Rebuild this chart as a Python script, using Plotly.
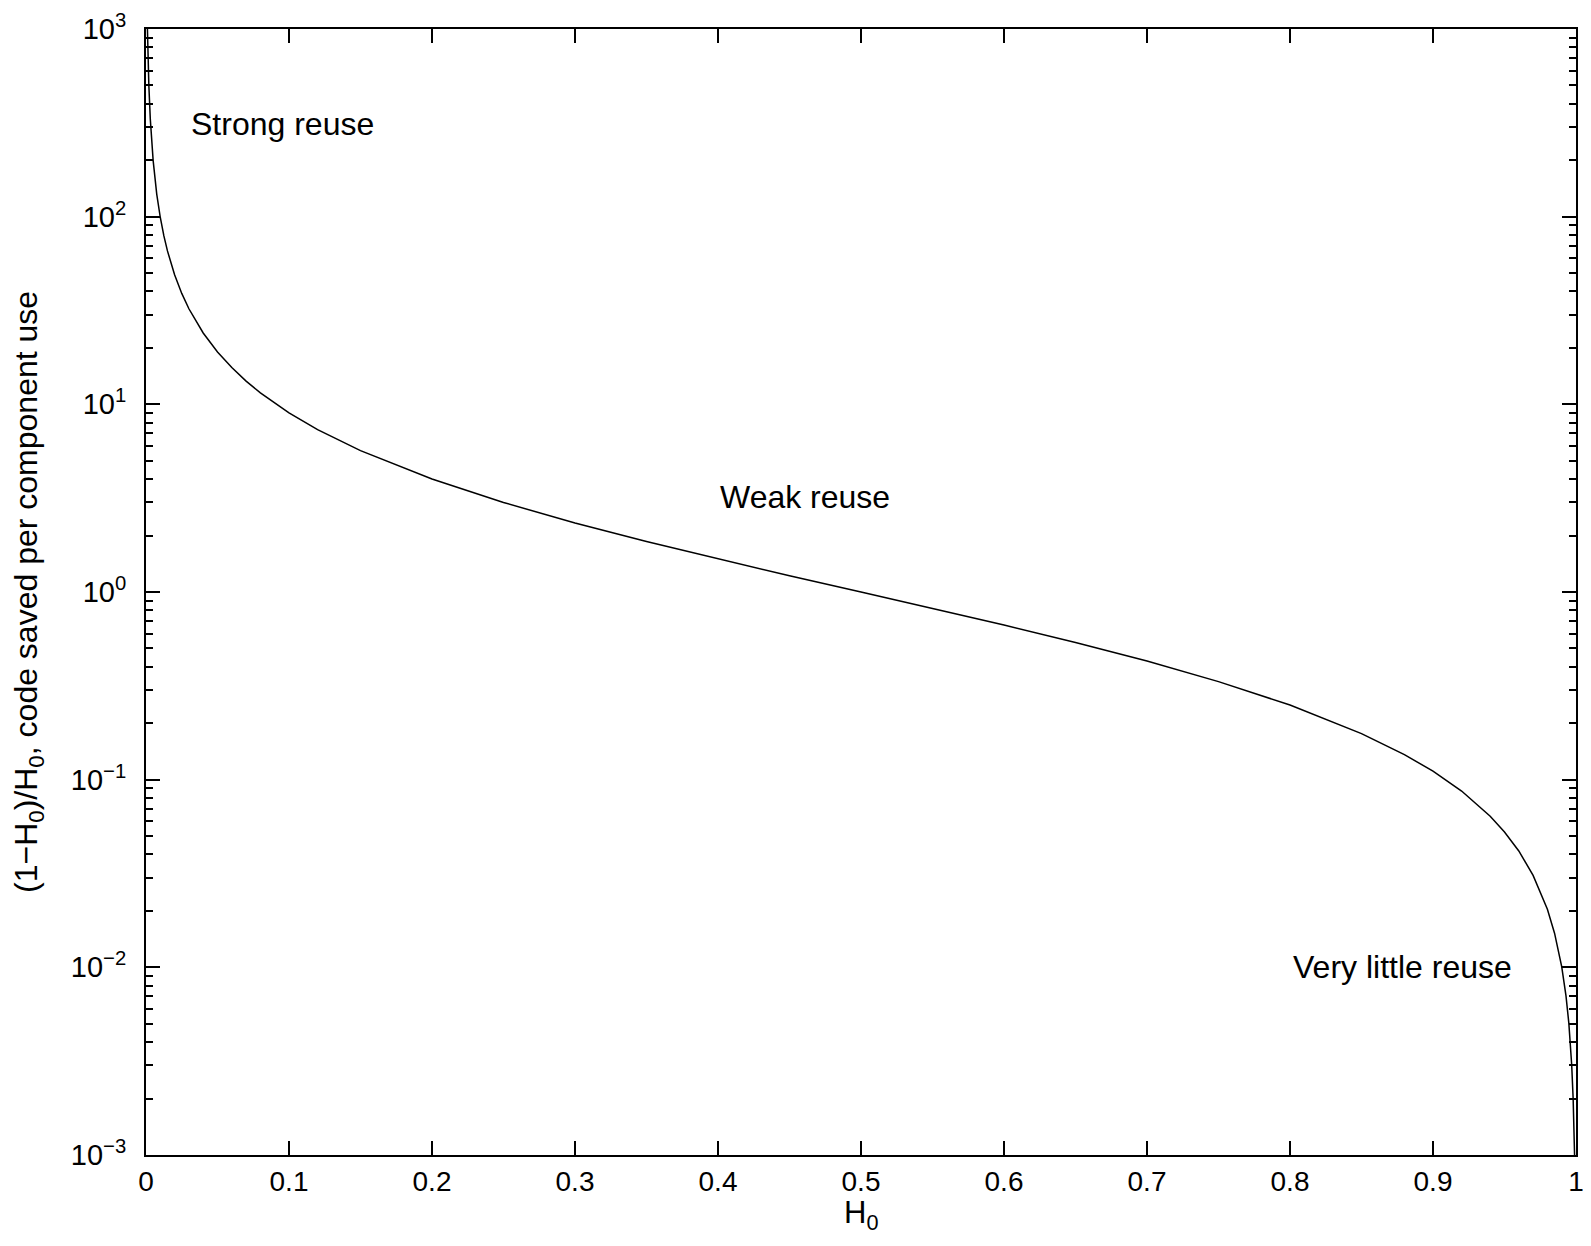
import math
import plotly.graph_objects as go

# Values
h0 = [0.001, 0.0015, 0.002, 0.003, 0.004, 0.005, 0.0075, 0.01, 0.0125, 0.015, 0.02, 0.025,
      0.03, 0.04, 0.05, 0.06, 0.07, 0.08, 0.1, 0.12, 0.15, 0.2, 0.25, 0.3, 0.35, 0.4,
      0.45, 0.5, 0.55, 0.6, 0.65, 0.7, 0.75, 0.8, 0.85, 0.88, 0.9, 0.92, 0.94, 0.95,
      0.96, 0.97, 0.98, 0.985, 0.99, 0.993, 0.995, 0.997, 0.998, 0.999]
saved = [999, 666, 499, 332, 249, 199, 132, 99, 79, 65.7, 49, 39, 32.3, 24, 19, 15.7,
         13.3, 11.5, 9, 7.33, 5.67, 4, 3, 2.33, 1.86, 1.5, 1.22, 1.0, 0.818, 0.667,
         0.538, 0.429, 0.333, 0.25, 0.176, 0.136, 0.111, 0.087, 0.0638, 0.0526, 0.0417,
         0.0309, 0.0204, 0.0152, 0.0101, 0.00705, 0.00503, 0.00301, 0.002, 0.001]

x_ticks = [0, 0.1, 0.2, 0.3, 0.4, 0.5, 0.6, 0.7, 0.8, 0.9, 1]
x_labels = ["0", "0.1", "0.2", "0.3", "0.4", "0.5", "0.6", "0.7", "0.8", "0.9", "1"]
y_ticks = [1e-3, 1e-2, 1e-1, 1, 10, 100, 1000]
y_labels = ["10<sup>\u22123</sup>", "10<sup>\u22122</sup>", "10<sup>\u22121</sup>", "10<sup>0</sup>",
            "10<sup>1</sup>", "10<sup>2</sup>", "10<sup>3</sup>"]

notes = ["Strong reuse", "Weak reuse", "Very little reuse"]
note_x = [0.030, 0.400, 0.801]
note_y = [312, 3.2, 0.0101]

FONT = "Liberation Sans, Arial, Helvetica, sans-serif"

minor_vals = [m * 10 ** e for e in range(-3, 3) for m in range(2, 10)]

fig = go.Figure()
fig.add_trace(go.Scatter(x=h0, y=saved, mode="lines", line=dict(color="black", width=1.5),
                         showlegend=False))

for t, x, y in zip(notes, note_x, note_y):
    fig.add_annotation(x=x, y=math.log10(y), yref="y", xref="x", text=t, showarrow=False, xanchor="left",
                       yanchor="middle", font=dict(size=32, color="black", family=FONT))

fig.add_annotation(x=0.5, y=0, xref="paper", yref="paper", yanchor="middle", xanchor="center", yshift=-60,
                   text="H<sub>0</sub>", showarrow=False, font=dict(size=31, color="black", family=FONT))
fig.add_annotation(x=0, y=0.5, xref="paper", yref="paper", yanchor="middle", xanchor="center", xshift=-118,
                   textangle=-90, text="(1\u2212H<sub>0</sub>)/H<sub>0</sub>, code saved per component use",
                   showarrow=False, font=dict(size=32, color="black", family=FONT))

fig.update_xaxes(range=[0, 1], tickmode="array", tickvals=x_ticks, ticktext=x_labels, ticks="inside", ticklen=14,
                 tickwidth=1.5, tickcolor="black", showline=True, linecolor="black", linewidth=2,
                 mirror="allticks", showgrid=False, zeroline=False, automargin=False,
                 ticklabeloverflow="allow",
                 tickfont=dict(size=28, color="black", family=FONT))
fig.update_yaxes(type="log", range=[-3, 3], tickmode="array", tickvals=y_ticks, ticktext=y_labels,
                 ticks="inside", ticklen=14, tickwidth=1.5, tickcolor="black",
                 minor=dict(ticks="inside", ticklen=7, tickwidth=1.5, tickcolor="black", showgrid=False,
                            tickmode="array", tickvals=minor_vals),
                 showline=True, linecolor="black", linewidth=2, mirror="allticks", showgrid=False,
                 zeroline=False, automargin=False, ticklabeloverflow="allow", ticklabelstandoff=12,
                 tickfont=dict(size=29, color="black", family=FONT))

fig.update_layout(width=1583, height=1230, margin=dict(l=138, r=15, t=21, b=83),
                  plot_bgcolor="white", paper_bgcolor="white", font=dict(family=FONT, color="black"))

fig.write_html("out.html")
